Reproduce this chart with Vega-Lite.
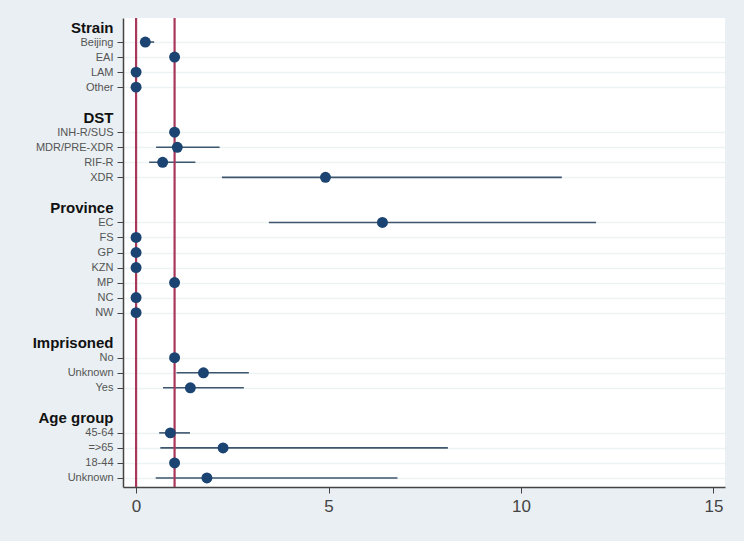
{
  "$schema": "https://vega.github.io/schema/vega-lite/v6.json",
  "width": 602,
  "height": 469,
  "autosize": {"type": "none"},
  "padding": {"left": 123, "top": 18, "right": 19, "bottom": 54},
  "background": "#e9eff2",
  "config": {
    "view": {"fill": "white", "stroke": null},
    "font": "Liberation Sans"
  },
  "datasets": {
    "est": [
      {"key": "Strain|Beijing", "or": 0.24, "lo": 0.1, "hi": 0.47},
      {"key": "Strain|EAI", "or": 1, "lo": 1, "hi": 1},
      {"key": "Strain|LAM", "or": 0, "lo": 0, "hi": 0},
      {"key": "Strain|Other", "or": 0, "lo": 0, "hi": 0},
      {"key": "DST|INH-R/SUS", "or": 1, "lo": 1, "hi": 1},
      {"key": "DST|MDR/PRE-XDR", "or": 1.07, "lo": 0.52, "hi": 2.17},
      {"key": "DST|RIF-R", "or": 0.69, "lo": 0.34, "hi": 1.54},
      {"key": "DST|XDR", "or": 4.92, "lo": 2.23, "hi": 11.06},
      {"key": "Province|EC", "or": 6.4, "lo": 3.45, "hi": 11.95},
      {"key": "Province|FS", "or": 0, "lo": 0, "hi": 0},
      {"key": "Province|GP", "or": 0, "lo": 0, "hi": 0},
      {"key": "Province|KZN", "or": 0, "lo": 0, "hi": 0},
      {"key": "Province|MP", "or": 1, "lo": 1, "hi": 1},
      {"key": "Province|NC", "or": 0, "lo": 0, "hi": 0},
      {"key": "Province|NW", "or": 0, "lo": 0, "hi": 0},
      {"key": "Imprisoned|No", "or": 1, "lo": 1, "hi": 1},
      {"key": "Imprisoned|Unknown", "or": 1.75, "lo": 1.05, "hi": 2.93},
      {"key": "Imprisoned|Yes", "or": 1.41, "lo": 0.7, "hi": 2.8},
      {"key": "Age|45-64", "or": 0.89, "lo": 0.6, "hi": 1.4},
      {"key": "Age|=>65", "or": 2.26, "lo": 0.63, "hi": 8.1},
      {"key": "Age|18-44", "or": 1, "lo": 1, "hi": 1},
      {"key": "Age|Unknown", "or": 1.84, "lo": 0.51, "hi": 6.79}
    ],
    "refs": [{"ref": 0}, {"ref": 1}]
  },
  "encoding": {
    "y": {
      "field": "key",
      "type": "ordinal",
      "scale": {
        "type": "point",
        "padding": 0.6,
        "domain": [
          "H1|#Strain", "Strain|Beijing", "Strain|EAI", "Strain|LAM", "Strain|Other", "B1|",
          "H2|#DST", "DST|INH-R/SUS", "DST|MDR/PRE-XDR", "DST|RIF-R", "DST|XDR", "B2|",
          "H3|#Province", "Province|EC", "Province|FS", "Province|GP", "Province|KZN", "Province|MP", "Province|NC", "Province|NW", "B3|",
          "H4|#Imprisoned", "Imprisoned|No", "Imprisoned|Unknown", "Imprisoned|Yes", "B4|",
          "H5|#Age group", "Age|45-64", "Age|=>65", "Age|18-44", "Age|Unknown"
        ]
      },
      "axis": {
        "title": null,
        "labelExpr": "replace(split(datum.value, '|')[1], '#', '')",
        "labelFont": "Liberation Sans",
        "labelFontSize": {"condition": {"test": "indexof(datum.value, '#') >= 0", "value": 15}, "value": 11},
        "labelFontWeight": {"condition": {"test": "indexof(datum.value, '#') >= 0", "value": "bold"}, "value": "normal"},
        "labelColor": {"condition": {"test": "indexof(datum.value, '#') >= 0", "value": "#111111"}, "value": "#555555"},
        "labelPadding": 4,
        "tickSize": 6,
        "tickColor": {"condition": {"test": "indexof(datum.value, '|') == length(datum.value) - 1 || indexof(datum.value, '#') >= 0", "value": "transparent"}, "value": "#444444"},
        "domainColor": "#444444",
        "domainWidth": 1.5,
        "grid": true,
        "gridColor": {"condition": {"test": "indexof(datum.value, '|') == length(datum.value) - 1 || indexof(datum.value, '#') >= 0", "value": "transparent"}, "value": "#edf2f4"},
        "gridWidth": 1.5
      }
    }
  },
  "layer": [
    {
      "data": {"name": "est"},
      "mark": {"type": "rule", "color": "#3d566e", "strokeWidth": 1.6},
      "encoding": {
        "x": {
          "field": "lo",
          "type": "quantitative",
          "scale": {"domain": [-0.34, 15.3], "nice": false, "zero": false},
          "axis": {
            "title": null,
            "values": [0, 5, 10, 15],
            "grid": false,
            "labelFontSize": 17,
            "labelColor": "#444444",
            "labelPadding": 5,
            "tickSize": 6,
            "tickColor": "#444444",
            "domainColor": "#444444",
            "domainWidth": 1.5
          }
        },
        "x2": {"field": "hi"}
      }
    },
    {
      "data": {"name": "refs"},
      "mark": {"type": "rule", "color": "#a8375a", "strokeWidth": 2.2},
      "encoding": {
        "x": {"field": "ref", "type": "quantitative"},
        "y": null
      }
    },
    {
      "data": {"name": "est"},
      "mark": {"type": "point", "filled": true, "shape": "circle", "size": 120, "color": "#1b4472", "opacity": 1},
      "encoding": {
        "x": {"field": "or", "type": "quantitative"}
      }
    }
  ]
}
